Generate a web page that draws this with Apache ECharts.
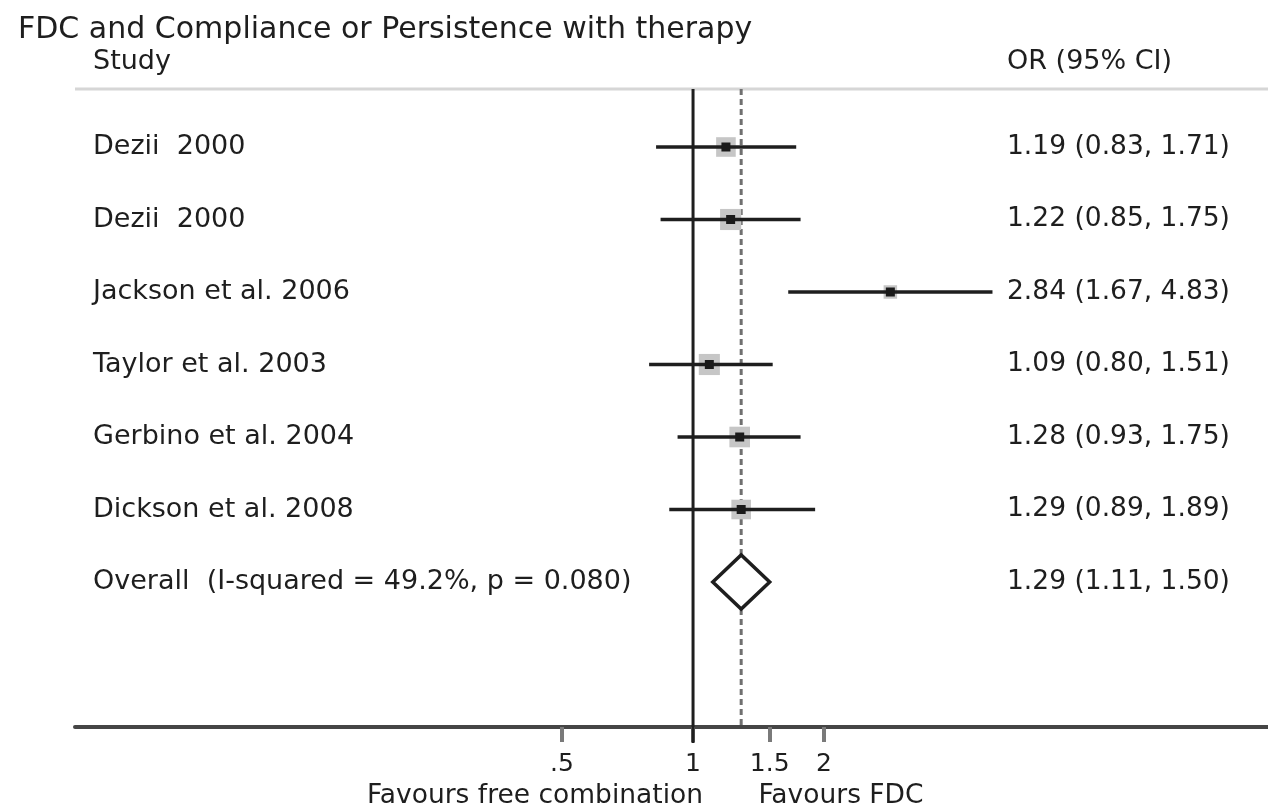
<!DOCTYPE html>
<html>
<head>
<meta charset="utf-8">
<script src="https://cdn.jsdelivr.net/npm/echarts@6/dist/echarts.min.js"></script>
<style>
html,body{margin:0;padding:0;background:#fff;}
#chart{width:1268px;height:809px;}
</style>
</head>
<body>
<div id="chart"></div>
<script>
// ---- data ----
var studies = ['Dezii  2000', 'Dezii  2000', 'Jackson et al. 2006', 'Taylor et al. 2003', 'Gerbino et al. 2004', 'Dickson et al. 2008', 'Overall  (I-squared = 49.2%, p = 0.080)'];
var orValues = [1.19, 1.22, 2.84, 1.09, 1.28, 1.29, 1.29];
var ciLow = [0.83, 0.85, 1.67, 0.80, 0.93, 0.89, 1.11];
var ciHigh = [1.71, 1.75, 4.83, 1.51, 1.75, 1.89, 1.50];
var weights = [19, 22, 9, 22, 21, 19, null];
var isOverall = [false, false, false, false, false, false, true];
var tickValues = [0.5, 1, 1.5, 2];
var tickLabels = ['.5', '1', '1.5', '2'];
var titleText = 'FDC and Compliance or Persistence with therapy';
var leftHeader = 'Study';
var rightHeader = 'OR (95% CI)';
var leftNote = 'Favours free combination';
var rightNote = 'Favours FDC';

var FONT = '"DejaVu Sans", "Liberation Sans", Arial, sans-serif';
var TXT = '#1e1e1e';
var log10 = function (v) { return Math.log(v) / Math.LN10; };

var rowData = studies.map(function (s, i) {
  return [i, log10(orValues[i]), log10(ciLow[i]), log10(ciHigh[i]), weights[i] == null ? 0 : weights[i]];
});
var overallIdx = isOverall.indexOf(true);
var overallLog = log10(orValues[overallIdx]);

var chart = echarts.init(document.getElementById('chart'), null, {renderer: 'canvas'});

var option = {
  animation: false,
  backgroundColor: '#ffffff',
  title: {
    text: titleText,
    left: 13, top: 10,
    textStyle: {fontFamily: FONT, fontSize: 30, fontWeight: 'normal', color: TXT}
  },
  grid: {left: 75, right: 0, top: 89, bottom: 82, outerBoundsMode: 'none', containLabel: false},
  xAxis: {
    type: 'value',
    min: -1.42, max: 1.321,
    splitLine: {show: false},
    axisLine: {show: true, onZero: false, lineStyle: {color: '#454545', width: 4}},
    axisTick: {show: true, length: 15, customValues: tickValues.map(log10), lineStyle: {color: '#7a7a7a', width: 4}},
    axisLabel: {
      show: true, margin: 25,
      customValues: tickValues.map(log10),
      fontFamily: FONT, fontSize: 25, color: TXT,
      formatter: function (v) {
        var best = 0, d = Infinity;
        for (var k = 0; k < tickValues.length; k++) {
          var dd = Math.abs(log10(tickValues[k]) - v);
          if (dd < d) { d = dd; best = k; }
        }
        return tickLabels[best];
      }
    }
  },
  yAxis: {
    type: 'value', inverse: true, min: -0.8, max: 8,
    show: false
  },
  graphic: [
    {type: 'text', left: 93, top: 48, style: {text: leftHeader, fontFamily: FONT, fontSize: 27, fill: TXT}},
    {type: 'text', left: 1007, top: 48, style: {text: rightHeader, fontFamily: FONT, fontSize: 27, fill: TXT}},
    {type: 'text', x: 535, y: 796, style: {text: leftNote, fontFamily: FONT, fontSize: 26.5, fill: TXT, align: 'center', verticalAlign: 'middle'}},
    {type: 'text', x: 841, y: 796, style: {text: rightNote, fontFamily: FONT, fontSize: 26.5, fill: TXT, align: 'center', verticalAlign: 'middle'}}
  ],
  series: [
    {
      // reference lines
      type: 'custom',
      clip: false,
      z: 1,
      data: [[0]],
      renderItem: function (params, api) {
        var cs = params.coordSys;
        var top = cs.y, bottom = cs.y + cs.height;
        var x1 = api.coord([0, 0])[0];
        var xo = api.coord([overallLog, 0])[0];
        return {
          type: 'group',
          children: [
            {type: 'line', shape: {x1: cs.x, y1: top, x2: cs.x + cs.width, y2: top}, style: {stroke: '#d6d6d6', lineWidth: 3}},
            {type: 'line', shape: {x1: xo, y1: top, x2: xo, y2: bottom}, style: {stroke: '#707070', lineWidth: 3, lineDash: [6, 4]}},
            {type: 'line', shape: {x1: x1, y1: top, x2: x1, y2: bottom + 16}, style: {stroke: '#1e1e1e', lineWidth: 3}}
          ]
        };
      }
    },
    {
      type: 'custom',
      clip: false,
      z: 2,
      data: rowData,
      renderItem: function (params, api) {
        var i = api.value(0);
        var pOr = api.coord([api.value(1), i]);
        var pLo = api.coord([api.value(2), i]);
        var pHi = api.coord([api.value(3), i]);
        var y = pOr[1];
        var children = [];
        var idx = params.dataIndex;
        if (isOverall[idx]) {
          var h = 27;
          children.push({
            type: 'polygon',
            shape: {points: [[pLo[0], y], [pOr[0], y - h], [pHi[0], y], [pOr[0], y + h]]},
            style: {fill: '#ffffff', stroke: '#1e1e1e', lineWidth: 3.5}
          });
        } else {
          var w = api.value(4);
          var s = 4.5 * Math.sqrt(w);
          children.push({type: 'rect', shape: {x: pOr[0] - s / 2, y: y - s / 2, width: s, height: s}, style: {fill: '#c6c6c6'}});
          children.push({type: 'line', shape: {x1: pLo[0], y1: y, x2: pHi[0], y2: y}, style: {stroke: '#1e1e1e', lineWidth: 3.5, lineCap: 'square'}});
          children.push({type: 'rect', shape: {x: pOr[0] - 4.5, y: y - 4.5, width: 9, height: 9}, style: {fill: '#1a1a1a'}});
        }
        children.push({
          type: 'text', x: 93, y: y,
          style: {text: studies[idx], fontFamily: FONT, fontSize: 27, fill: TXT, align: 'left', verticalAlign: 'middle'}
        });
        children.push({
          type: 'text', x: 1007, y: y,
          style: {
            text: orValues[idx].toFixed(2) + ' (' + ciLow[idx].toFixed(2) + ', ' + ciHigh[idx].toFixed(2) + ')',
            fontFamily: FONT, fontSize: 26.5, fill: TXT, align: 'left', verticalAlign: 'middle'
          }
        });
        return {type: 'group', children: children};
      }
    }
  ]
};
chart.setOption(option);
</script>
</body>
</html>
